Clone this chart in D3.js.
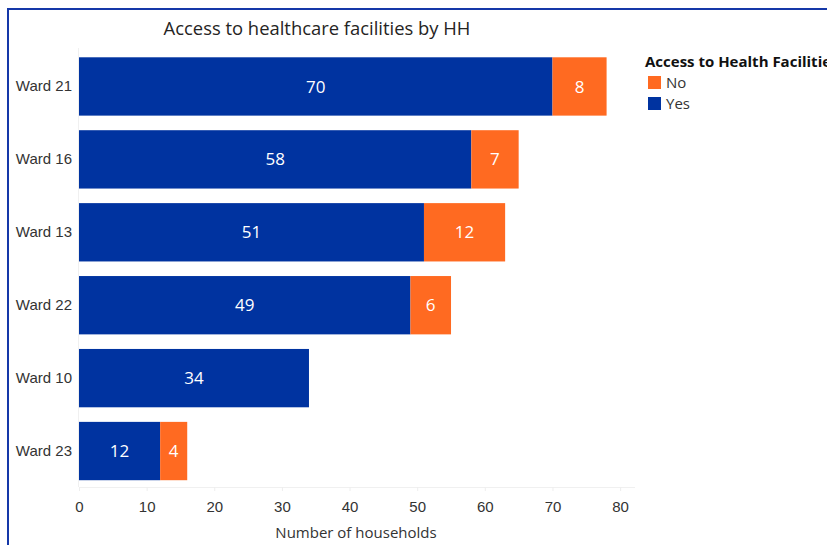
<!DOCTYPE html>
<html>
<head>
<meta charset="utf-8">
<script src="https://cdn.jsdelivr.net/npm/d3@7/dist/d3.min.js"></script>
<style>
  html, body { margin: 0; padding: 0; background: #fff; }
  svg { display: block; font-family: "Segoe UI", "Open Sans", "Noto Sans", sans-serif; }
</style>
</head>
<body>
<svg id="chart" width="827" height="545"></svg>
<script>
// Households by ward, split by access to health facilities
const wards = ["Ward 21", "Ward 16", "Ward 13", "Ward 22", "Ward 10", "Ward 23"];
const yesValues = [70, 58, 51, 49, 34, 12];
const noValues = [8, 7, 12, 6, 0, 4];
const xTicks = [0, 10, 20, 30, 40, 50, 60, 70, 80];
const seriesNames = ["No", "Yes"];

const colors = { Yes: "#0033A0", No: "#FF6A21" };

const rows = wards.map((w, i) => ({ ward: w, Yes: yesValues[i], No: noValues[i] }));
const stack = d3.stack().keys(["Yes", "No"])(rows);

const svg = d3.select("#chart");

// outer frame
svg.append("rect")
  .attr("x", 8).attr("y", 9).attr("width", 840).attr("height", 560)
  .attr("fill", "none").attr("stroke", "#1538A8").attr("stroke-width", 2);

const x = d3.scaleLinear().domain([0, 82.2]).range([79, 635]);
const y = d3.scaleBand().domain(wards).range([50, 487.5]).paddingInner(0.2).paddingOuter(0.1);

// title
svg.append("text")
  .attr("x", 317).attr("y", 35)
  .attr("text-anchor", "middle")
  .attr("font-size", 18.4).attr("fill", "#252423")
  .text("Access to healthcare facilities by HH");

// x axis
const xAxis = svg.append("g").attr("transform", "translate(0,487)")
  .call(d3.axisBottom(x).tickValues(xTicks).tickSize(4).tickPadding(10));
xAxis.select(".domain").attr("stroke", "#f0f0f0").attr("d", `M${x(0)},0.5H635`);
xAxis.selectAll(".tick line").attr("stroke", "#eeeeee");
xAxis.selectAll(".tick text").attr("font-size", 15).attr("fill", "#333").attr("font-family", "inherit");

svg.append("text")
  .attr("x", 356).attr("y", 538)
  .attr("text-anchor", "middle")
  .attr("font-size", 15).attr("fill", "#333")
  .text("Number of households");

// y axis
const yAxis = svg.append("g").attr("transform", "translate(78,0)")
  .call(d3.axisLeft(y).tickSize(0).tickPadding(6));
yAxis.select(".domain").attr("stroke", "#f0f0f0").attr("d", "M0.5,48V487");
yAxis.selectAll(".tick text").attr("font-size", 15).attr("fill", "#333").attr("font-family", "inherit");

// bars
const layers = svg.append("g").selectAll("g").data(stack).join("g")
  .attr("fill", d => colors[d.key]);

layers.selectAll("rect").data(d => d.map(p => ({ p, key: d.key })))
  .join("rect")
  .attr("x", d => x(d.p[0]))
  .attr("y", d => y(d.p.data.ward))
  .attr("width", d => x(d.p[1]) - x(d.p[0]))
  .attr("height", y.bandwidth());

// value labels
layers.selectAll("text").data(d => d.map(p => ({ p, key: d.key })).filter(e => e.p.data[e.key] > 0))
  .join("text")
  .attr("x", d => (x(d.p[0]) + x(d.p[1])) / 2)
  .attr("y", d => y(d.p.data.ward) + y.bandwidth() / 2)
  .attr("dy", "0.36em")
  .attr("text-anchor", "middle")
  .attr("font-size", 17).attr("fill", "#fff")
  .text(d => d.p.data[d.key]);

// legend
const legend = svg.append("g");
legend.append("text")
  .attr("x", 645).attr("y", 67)
  .attr("font-size", 15).attr("font-weight", "bold").attr("fill", "#111")
  .text("Access to Health Facilities");
const items = legend.selectAll("g.item").data(seriesNames).join("g")
  .attr("class", "item")
  .attr("transform", (d, i) => `translate(648,${76 + i * 21})`);
items.append("rect").attr("width", 13).attr("height", 13).attr("fill", d => colors[d]);
items.append("text").attr("x", 18).attr("y", 6.5).attr("dy", "0.36em")
  .attr("font-size", 15).attr("fill", "#333").text(d => d);
</script>
</body>
</html>
